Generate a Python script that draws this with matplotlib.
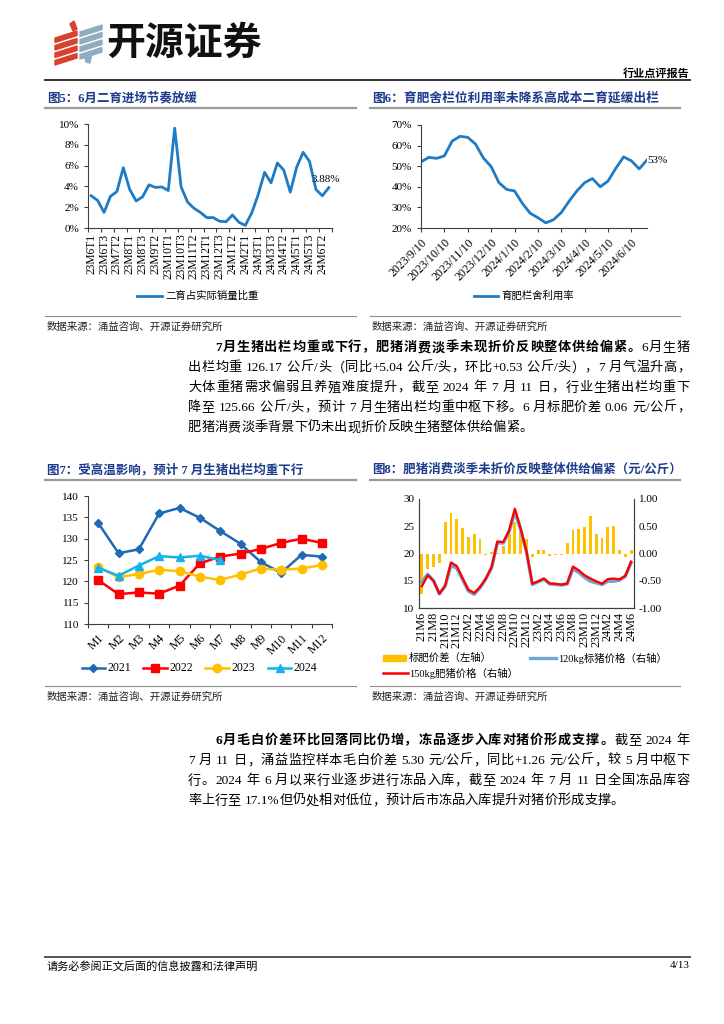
import re
import matplotlib
matplotlib.use('Agg')
import matplotlib.pyplot as plt
from matplotlib.lines import Line2D
from matplotlib.patches import Polygon, Rectangle
from matplotlib.ticker import FixedLocator, FuncFormatter
import numpy as np

plt.rcParams['font.family'] = ['Liberation Serif', 'Noto Sans CJK SC']
plt.rcParams['axes.unicode_minus'] = False

# ---------------- data ----------------
ch5_ticklabels = ['23M6T1', '23M6T3', '23M7T2', '23M8T1', '23M8T3', '23M9T2', '23M10T1',
                  '23M10T3', '23M11T2', '23M12T1', '23M12T3', '24M1T2', '24M2T1', '24M3T1',
                  '24M3T3', '24M4T2', '24M5T1', '24M5T3', '24M6T2']
ch5_share = [3.1, 2.65, 1.5, 3.05, 3.5, 5.8, 3.7, 2.6, 3.0, 4.15, 3.9, 3.95, 3.6, 9.6, 3.95,
             2.5, 1.9, 1.5, 1.0, 1.0, 0.65, 0.6, 1.25, 0.55, 0.25, 1.45, 3.2, 5.35, 4.35,
             6.25, 5.55, 3.45, 5.85, 7.28, 6.4, 3.7, 3.1, 3.88]

ch6_ticklabels = ['2023/9/10', '2023/10/10', '2023/11/10', '2023/12/10', '2024/1/10',
                  '2024/2/10', '2024/3/10', '2024/4/10', '2024/5/10', '2024/6/10']
ch6_util = [52.1, 54.3, 53.8, 55.0, 62.2, 64.5, 64.0, 60.7, 54.0, 49.8, 42.0, 38.7, 38.0,
            32.0, 27.2, 25.0, 22.5, 24.0, 27.5, 33.0, 38.0, 42.0, 44.0, 40.0, 42.8, 49.0,
            54.5, 52.6, 48.7, 53.0]

ch7_months = ['M1', 'M2', 'M3', 'M4', 'M5', 'M6', 'M7', 'M8', 'M9', 'M10', 'M11', 'M12']
w2021 = [133.7, 126.6, 127.5, 135.9, 137.2, 134.9, 131.8, 128.8, 124.5, 122.0, 126.2, 125.8]
w2022 = [120.3, 117.0, 117.4, 117.1, 119.0, 124.2, 125.8, 126.5, 127.6, 129.0, 130.0, 129.0]
w2023 = [123.3, 121.0, 121.7, 122.7, 122.4, 121.1, 120.3, 121.6, 123.0, 122.7, 123.0, 123.8]
w2024 = [123.2, 121.3, 123.7, 125.9, 125.6, 126.0, 125.0]

ch8_ticklabels = ['21M6', '21M8', '21M10', '21M12', '22M2', '22M4', '22M6', '22M8', '22M10',
                  '22M12', '23M2', '23M4', '23M6', '23M8', '23M10', '23M12', '24M2', '24M4',
                  '24M6']
spread = [-0.74, -0.28, -0.25, -0.17, 0.58, 0.74, 0.64, 0.46, 0.30, 0.35, 0.26, -0.03, 0.02,
          0.01, 0.14, 0.35, 0.57, 0.45, 0.26, -0.07, 0.06, 0.06, -0.05, -0.02, -0.03, 0.20,
          0.43, 0.45, 0.48, 0.68, 0.35, 0.29, 0.48, 0.50, 0.07, -0.07, 0.06]
price150 = [14.0, 16.0, 15.0, 12.6, 14.1, 18.35, 17.7, 15.5, 13.35, 12.75, 13.85, 15.4, 17.5,
            22.2, 22.1, 24.2, 28.2, 24.6, 20.4, 14.45, 14.9, 15.4, 14.5, 14.45, 14.3, 14.5,
            17.6, 16.9, 16.0, 15.4, 14.9, 14.45, 15.3, 15.4, 15.25, 15.9, 18.5]
price120 = [14.8, 16.2, 15.0, 12.6, 14.0, 17.8, 17.3, 15.2, 13.1, 12.5, 13.7, 15.3, 17.4,
            22.0, 21.9, 24.0, 27.6, 24.3, 20.2, 14.3, 14.8, 15.3, 14.4, 14.3, 14.2, 14.4,
            17.2, 16.5, 15.6, 14.9, 14.6, 14.3, 14.9, 14.9, 15.1, 15.8, 18.3]

para1 = [
    [('7月生猪出栏均重或下行，肥猪消费淡季未现折价反映整体供给偏紧。', 'bold'), ('6月生猪', 'normal')],
    [('出栏均重 126.17 公斤/头（同比+5.04 公斤/头，环比+0.53 公斤/头），7 月气温升高，', 'normal')],
    [('大体重猪需求偏弱且养殖难度提升，截至 2024 年 7 月 11 日，行业生猪出栏均重下', 'normal')],
    [('降至 125.66 公斤/头，预计 7 月生猪出栏均重中枢下移。6 月标肥价差 0.06 元/公斤，', 'normal')],
    [('肥猪消费淡季背景下仍未出现折价反映生猪整体供给偏紧。', 'normal')],
]
para2 = [
    [('6月毛白价差环比回落同比仍增，冻品逐步入库对猪价形成支撑。', 'bold'), ('截至 2024 年', 'normal')],
    [('7 月 11 日，涌益监控样本毛白价差 5.30 元/公斤，同比+1.26 元/公斤，较 5 月中枢下', 'normal')],
    [('行。2024 年 6 月以来行业逐步进行冻品入库，截至 2024 年 7 月 11 日全国冻品库容', 'normal')],
    [('率上行至 17.1%但仍处相对低位，预计后市冻品入库提升对猪价形成支撑。', 'normal')],
]

# ---------------- helpers ----------------
W, H = 724, 1024
fig = plt.figure(figsize=(7.24, 10.24), dpi=100)
fig.patch.set_facecolor('white')
renderer = fig.canvas.get_renderer()

NAVY = '#1d3c8c'
TITLE_FONT = ['Liberation Serif', 'Noto Sans CJK SC']
AXC = '#404040'


def fx(x):
    return x / W


def fy(y):
    return 1 - y / H


def ax_px(l, t, r, b):
    return fig.add_axes([l / W, 1 - b / H, (r - l) / W, (b - t) / H])


def hline(x0, x1, y, color='#8c8c8c', lw=1.0):
    fig.add_artist(Line2D([fx(x0), fx(x1)], [fy(y), fy(y)], color=color, lw=lw,
                          transform=fig.transFigure))


def ftext(x, y, s, **kw):
    kw.setdefault('va', 'center')
    return fig.text(fx(x), fy(y), s, **kw)


def justified_line(segments, x0, x1, y, fs, justify=True):
    toks = []
    for text, weight in segments:
        for m in re.finditer(r'[A-Za-z0-9.+%/\-]+|\s+|.', text):
            t = m.group(0)
            toks.append((t, weight, t.isspace()))
    space_w = 0.28 * fs * 100 / 72
    items = []
    pending_space = 0.0
    for t, wgt, isspace in toks:
        if isspace:
            pending_space += space_w
            continue
        tt = ftext(0, y, t, fontsize=fs, fontweight=wgt, ha='left')
        w = tt.get_window_extent(renderer).width
        items.append([tt, w, pending_space])
        pending_space = 0.0
    total = sum(w + sp for _, w, sp in items)
    n = len(items)
    extra = (x1 - x0 - total) / (n - 1) if (justify and n > 1) else 0.0
    x = x0
    for i, (tt, w, sp) in enumerate(items):
        if i > 0:
            x += sp + extra
        tt.set_x(fx(x))
        x += w


def style_axes(ax, right=False):
    ax.spines['top'].set_visible(False)
    if not right:
        ax.spines['right'].set_visible(False)
    for s in ['left', 'bottom', 'right']:
        ax.spines[s].set_color(AXC)
        ax.spines[s].set_linewidth(0.8)
    ax.tick_params(axis='both', labelsize=8, colors='black', direction='out', width=0.8)
    ax.tick_params(axis='both', color=AXC)
    ax.set_facecolor('none')


# ---------------- header ----------------
for k in range(4):
    yt = 31 + k * 7.5
    fig.add_artist(Polygon([(fx(55), fy(yt + 7)), (fx(77), fy(yt)), (fx(77), fy(yt + 4.5)),
                            (fx(55), fy(yt + 11.5))], closed=True, color='#d9412f',
                           transform=fig.transFigure))
fig.add_artist(Polygon([(fx(70), fy(24)), (fx(74), fy(21)), (fx(77), fy(29)), (fx(73), fy(31))],
                       closed=True, color='#d9412f', transform=fig.transFigure))
for k in range(4):
    yt = 25 + k * 7.5
    fig.add_artist(Polygon([(fx(80), fy(yt + 7)), (fx(102), fy(yt)), (fx(102), fy(yt + 4.5)),
                            (fx(80), fy(yt + 11.5))], closed=True, color='#8eaebf',
                           transform=fig.transFigure))
fig.add_artist(Polygon([(fx(84), fy(55)), (fx(92), fy(53)), (fx(90), fy(63)), (fx(86), fy(62))],
                       closed=True, color='#8eaebf', transform=fig.transFigure))
ftext(106, 43, '开源证券', fontsize=28, fontweight='bold', family='Noto Sans CJK SC',
      color='#111111', ha='left')
ftext(690, 73, '行业点评报告', fontsize=8, fontweight='bold', family='Noto Sans CJK SC',
      ha='right')
hline(45, 690, 80, color='#333333', lw=1.4)

# ---------------- section titles ----------------
ftext(47, 98, '图5：6月二育进场节奏放缓', fontsize=9, fontweight='bold', color=NAVY, ha='left',
      family=TITLE_FONT)
hline(45, 356, 108, color='#9a9a9a', lw=1.6)
ftext(372, 98, '图6：育肥舍栏位利用率未降系高成本二育延缓出栏', fontsize=9.2, fontweight='bold',
      color=NAVY, ha='left', family=TITLE_FONT)
hline(370, 680, 108, color='#9a9a9a', lw=1.6)

ftext(47, 470, '图7：受高温影响，预计 7 月生猪出栏均重下行', fontsize=9, fontweight='bold',
      color=NAVY, ha='left', family=TITLE_FONT)
hline(45, 356, 480, color='#9a9a9a', lw=1.6)
ftext(372, 470, '图8：肥猪消费淡季未折价反映整体供给偏紧（元/公斤）', fontsize=9,
      fontweight='bold', color=NAVY, ha='left', family=TITLE_FONT)
hline(370, 680, 480, color='#9a9a9a', lw=1.6)

for (x0, x1, ly, ty) in [(45, 356, 316, 327), (370, 680, 316, 327),
                         (45, 356, 686, 697), (370, 680, 686, 697)]:
    hline(x0, x1, ly, color='#8c8c8c', lw=0.8)
    ftext(x0 + 2, ty, '数据来源：涌益咨询、开源证券研究所', fontsize=7.5, ha='left',
          family='Noto Sans CJK SC', color='#222222')

# ---------------- chart 5 ----------------
BLUE = '#1f7bc4'
ax5 = ax_px(88, 124, 332, 228)
style_axes(ax5)
x5 = np.arange(len(ch5_share))
ax5.plot(x5, ch5_share, color=BLUE, lw=2.0)
ax5.set_xlim(-0.5, len(ch5_share) - 0.5)
ax5.set_ylim(0, 10)
ax5.set_yticks(np.arange(0, 11, 2))
ax5.yaxis.set_major_formatter(FuncFormatter(lambda v, p: f'{v:.0f}%'))
ax5.set_xticks(np.arange(0, len(ch5_share), 2)[:len(ch5_ticklabels)])
ax5.set_xticklabels(ch5_ticklabels, rotation=90, fontsize=8.3)
ax5.tick_params(axis='x', length=0, pad=4)
ax5.xaxis.set_minor_locator(FixedLocator(np.arange(-0.5, len(ch5_share), 2)))
ax5.tick_params(axis='x', which='minor', length=3, color=AXC, width=0.8)
ax5.tick_params(axis='y', length=3)
ax5.text(36.5, 4.7, '3.88%', fontsize=8, ha='center', va='center')
fig.add_artist(Line2D([fx(137), fx(162)], [fy(296), fy(296)], color=BLUE, lw=2.0,
                      transform=fig.transFigure))
ftext(165, 296, '二育占实际销量比重', fontsize=7.5, ha='left', family='Noto Sans CJK SC')

# ---------------- chart 6 ----------------
ax6 = ax_px(421, 125, 647, 228)
style_axes(ax6)
x6 = np.arange(len(ch6_util))
ax6.plot(x6, ch6_util, color=BLUE, lw=2.0)
ax6.set_xlim(0, len(ch6_util) - 1)
ax6.set_ylim(20, 70)
ax6.set_yticks(np.arange(20, 71, 10))
ax6.yaxis.set_major_formatter(FuncFormatter(lambda v, p: f'{v:.0f}%'))
ax6.set_xticks(np.arange(0, len(ch6_util), 3)[:len(ch6_ticklabels)])
ax6.set_xticklabels(ch6_ticklabels, rotation=45, ha='right', rotation_mode='anchor',
                    fontsize=8.6)
ax6.tick_params(axis='x', length=3, pad=3)
ax6.tick_params(axis='y', length=3)
ax6.text(30.3, 53.0, '53%', fontsize=8, ha='center', va='center', clip_on=False)
fig.add_artist(Line2D([fx(474), fx(498)], [fy(296), fy(296)], color=BLUE, lw=2.0,
                      transform=fig.transFigure))
ftext(501, 296, '育肥栏舍利用率', fontsize=7.5, ha='left', family='Noto Sans CJK SC')

# ---------------- paragraph 1 ----------------
FS = 9.5
for i, seg in enumerate(para1):
    y = 348 + i * 20
    x0 = 215 if i == 0 else 188
    justified_line(seg, x0, 690, y, FS, justify=(i < len(para1) - 1))

# ---------------- chart 7 ----------------
C21, C22, C23, C24 = '#1f6ab4', '#ff0000', '#ffc000', '#14b1ec'
ax7 = ax_px(88, 496, 332, 624)
style_axes(ax7)
x7 = np.arange(12)
ax7.plot(x7, w2021, color=C21, lw=1.8, marker='D', ms=4.5, zorder=3)
ax7.plot(x7, w2022, color=C22, lw=1.8, marker='s', ms=6, zorder=3)
ax7.plot(x7, w2023, color=C23, lw=1.8, marker='o', ms=6, zorder=3)
ax7.plot(np.arange(len(w2024)), w2024, color=C24, lw=1.8, marker='^', ms=6, zorder=4)
ax7.set_xlim(-0.5, 11.5)
ax7.set_ylim(110, 140)
ax7.set_yticks(np.arange(110, 141, 5))
ax7.set_xticks(x7)
ax7.set_xticklabels(ch7_months, rotation=45, ha='right', rotation_mode='anchor', fontsize=8.5)
ax7.tick_params(axis='x', length=0, pad=6)
ax7.xaxis.set_minor_locator(FixedLocator(np.arange(-0.5, 12, 1)))
ax7.tick_params(axis='x', which='minor', length=3, color=AXC, width=0.8)
ax7.tick_params(axis='y', length=3)
leg7 = [(82, 105, '2021', C21, 'D', 4.5), (143, 167, '2022', C22, 's', 6),
        (205, 229, '2023', C23, 'o', 6), (268, 291, '2024', C24, '^', 6)]
for (a, b, lab, c, mk, ms) in leg7:
    fig.add_artist(Line2D([fx(a), fx(b)], [fy(668), fy(668)], color=c, lw=1.8,
                          transform=fig.transFigure))
    fig.add_artist(Line2D([fx((a + b) / 2)], [fy(668)], color=c, marker=mk, ms=ms,
                          transform=fig.transFigure))
    ftext(b + 2, 668, lab, fontsize=8.5, ha='left')

# ---------------- chart 8 ----------------
BAR = '#ffc000'
ax8 = ax_px(419, 499, 634, 608)
ax8r = ax8.twinx()
style_axes(ax8, right=True)
style_axes(ax8r, right=True)
x8 = np.arange(len(spread))
ax8r.bar(x8, spread, width=0.5, color=BAR, zorder=1)
ax8r.set_ylim(-1, 1)
ax8r.set_yticks(np.arange(-1, 1.01, 0.5))
ax8r.yaxis.set_major_formatter(FuncFormatter(lambda v, p: f'{v:.2f}'))
ax8r.tick_params(axis='y', length=0, labelsize=8)
ax8.set_zorder(ax8r.get_zorder() + 1)
ax8.patch.set_visible(False)
ax8.plot(x8, price120, color='#6ea6da', lw=2.4)
ax8.plot(x8, price150, color='#ff0000', lw=1.7)
ax8.set_xlim(-0.5, len(spread) - 0.5)
ax8.set_ylim(10, 30)
ax8.set_yticks(np.arange(10, 31, 5))
ax8.tick_params(axis='y', length=0)
ax8.set_xticks(np.arange(0, len(spread), 2)[:len(ch8_ticklabels)])
ax8.set_xticklabels(ch8_ticklabels, rotation=90, fontsize=8.8)
ax8.tick_params(axis='x', length=0, pad=3)
fig.add_artist(Rectangle((fx(383), fy(661)), (406 - 383) / W, 6 / H, color=BAR,
                         transform=fig.transFigure))
ftext(409, 658, '标肥价差（左轴）', fontsize=7.5, ha='left', family='Noto Sans CJK SC')
fig.add_artist(Line2D([fx(530), fx(556)], [fy(658), fy(658)], color='#6ea6da', lw=2.4,
                      transform=fig.transFigure))
ftext(558, 658, '120kg标猪价格（右轴）', fontsize=7.5, ha='left')
fig.add_artist(Line2D([fx(383), fx(408)], [fy(673), fy(673)], color='#ff0000', lw=1.8,
                      transform=fig.transFigure))
ftext(409, 673, '150kg肥猪价格（右轴）', fontsize=7.5, ha='left')

# ---------------- paragraph 2 ----------------
for i, seg in enumerate(para2):
    y = 741 + i * 20
    x0 = 215 if i == 0 else 188
    justified_line(seg, x0, 690, y, FS, justify=(i < len(para2) - 1))

# ---------------- footer ----------------
hline(45, 690, 957, color='#555555', lw=1.4)
ftext(47, 966, '请务必参阅正文后面的信息披露和法律声明', fontsize=8, ha='left',
      family='Noto Sans CJK SC')
ftext(690, 966, '4/13', fontsize=8, ha='right')

fig.savefig('out.png', dpi=100, facecolor='white')
